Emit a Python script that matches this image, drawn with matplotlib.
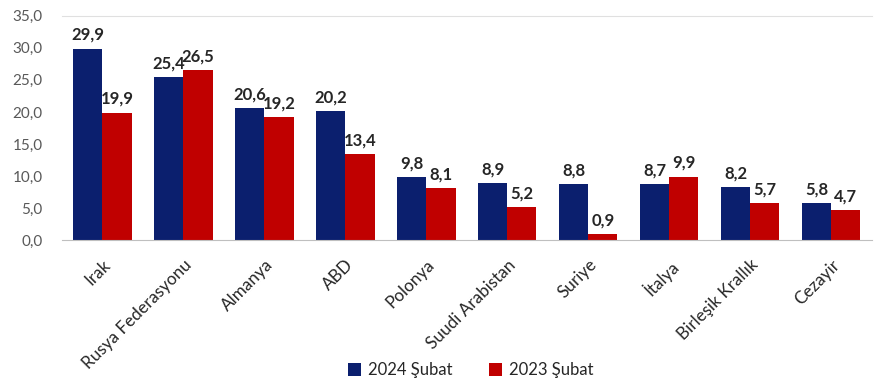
import numpy as np
import matplotlib.pyplot as plt
from matplotlib.ticker import FuncFormatter

plt.rcParams['font.family'] = ['Lato', 'DejaVu Sans']

countries = ['Irak', 'Rusya Federasyonu', 'Almanya', 'ABD', 'Polonya',
             'Suudi Arabistan', 'Suriye', 'İtalya', 'Birleşik Krallık', 'Cezayir']
feb_2024 = [29.9, 25.4, 20.6, 20.2, 9.8, 8.9, 8.8, 8.7, 8.2, 5.8]
feb_2023 = [19.9, 26.5, 19.2, 13.4, 8.1, 5.2, 0.9, 9.9, 5.7, 4.7]
series_labels = ['2024 Şubat', '2023 Şubat']

NAVY = '#0b1f6e'
RED = '#c00000'
GREY = '#595959'

fig = plt.figure(figsize=(8.85, 3.87), dpi=100)
ax = fig.add_axes([0.070, 0.380, 0.915, 0.579])

x = np.arange(len(countries))
w = 0.36
b1 = ax.bar(x - w / 2, feb_2024, w, color=NAVY, label=series_labels[0])
b2 = ax.bar(x + w / 2, feb_2023, w, color=RED, label=series_labels[1])

fmt = lambda v: f'{v:.1f}'.replace('.', ',')
for bars, vals in ((b1, feb_2024), (b2, feb_2023)):
    for bar, v in zip(bars, vals):
        ax.annotate(fmt(v), (bar.get_x() + bar.get_width() / 2, v),
                    xytext=(0, 4), textcoords='offset points',
                    ha='center', va='bottom', fontsize=12, fontweight='bold',
                    color='#262626')

ax.set_xlim(-0.5, len(countries) - 0.5)
ax.set_ylim(0, 35)
ax.set_yticks(np.arange(0, 35.1, 5))
ax.yaxis.set_major_formatter(FuncFormatter(lambda v, _: fmt(v)))
ax.tick_params(axis='y', length=0, labelsize=11, labelcolor=GREY, pad=14)
ax.tick_params(axis='x', length=0, pad=12)
ax.set_xticks(x)
ax.set_xticklabels(countries, rotation=45, ha='right', rotation_mode='anchor',
                   fontsize=12.3, color='#262626')

for s in ('left', 'right'):
    ax.spines[s].set_visible(False)
ax.spines['top'].set_color('#e0e0e0')
ax.spines['bottom'].set_color('#bfbfbf')

fig.legend(loc='center', bbox_to_anchor=(0.532, 0.044), ncol=2, frameon=False,
           fontsize=12, handlelength=0.8, handleheight=0.8, columnspacing=2.2,
           handletextpad=0.4, labelcolor='#262626')

fig.savefig('out.png', dpi=100)
